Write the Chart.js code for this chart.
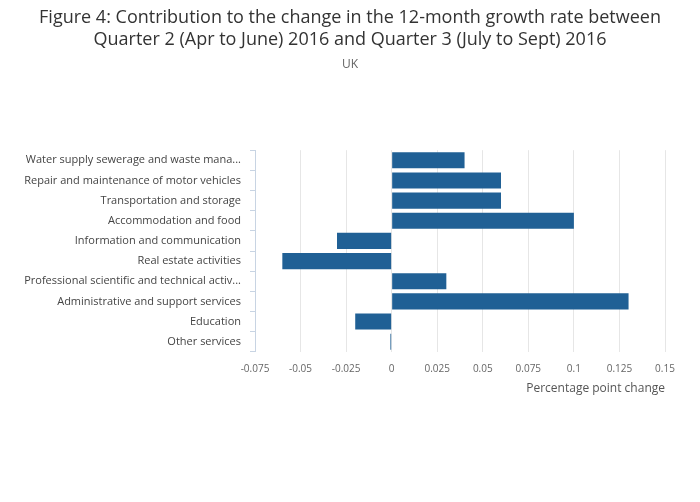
<!DOCTYPE html>
<html>
<head>
<meta charset="utf-8">
<script src="https://cdn.jsdelivr.net/npm/chart.js@4"></script>
<style>
  html, body { margin: 0; padding: 0; background: #fff; }
  #wrap { width: 700px; height: 502px; position: relative; }
</style>
</head>
<body>
<div id="wrap"><canvas id="c" width="700" height="502"></canvas></div>
<script>
const categories = [
  "Water supply sewerage and waste mana...",
  "Repair and maintenance of motor vehicles",
  "Transportation and storage",
  "Accommodation and food",
  "Information and communication",
  "Real estate activities",
  "Professional scientific and technical activ...",
  "Administrative and support services",
  "Education",
  "Other services"
];
const values = [0.04, 0.06, 0.06, 0.1, -0.03, -0.06, 0.03, 0.13, -0.02, -0.0007];
const titleLines = [
  "Figure 4: Contribution to the change in the 12-month growth rate between",
  "Quarter 2 (Apr to June) 2016 and Quarter 3 (July to Sept) 2016"
];
const subtitleText = "UK";
const xAxisTitle = "Percentage point change";
const xMin = -0.075, xMax = 0.15, xStep = 0.025;

const FONT = "'Open Sans', sans-serif";

new Chart(document.getElementById('c'), {
  type: 'bar',
  data: {
    labels: categories,
    datasets: [{
      data: values,
      backgroundColor: '#206095',
      borderWidth: 0,
      categoryPercentage: 0.8,
      barPercentage: 1.0
    }]
  },
  options: {
    indexAxis: 'y',
    responsive: false,
    animation: false,
    devicePixelRatio: 1,
    layout: { padding: { left: 0, right: 0, top: 0, bottom: 106 } },
    plugins: {
      legend: { display: false },
      tooltip: { enabled: false },
      title: {
        display: true,
        text: titleLines,
        color: '#333333',
        font: { family: FONT, size: 18, weight: 'normal', lineHeight: 1.2 },
        padding: { top: 7, bottom: 4 }
      },
      subtitle: {
        display: true,
        text: subtitleText,
        color: '#666666',
        font: { family: FONT, size: 12, weight: 'normal', lineHeight: 1.2 },
        padding: { top: 3, bottom: 78.6 }
      }
    },
    scales: {
      x: {
        type: 'linear',
        min: xMin,
        max: xMax,
        afterBuildTicks: (scale) => {
          const t = [];
          for (let i = 0; i <= Math.round((xMax - xMin) / xStep); i++) {
            t.push({ value: +(xMin + i * xStep).toFixed(4) });
          }
          scale.ticks = t;
        },
        grid: { color: '#e6e6e6', lineWidth: 1, drawTicks: false },
        border: { display: false },
        ticks: {
          padding: 11,
          color: '#666666',
          font: { family: FONT, size: 10 },
          maxRotation: 0,
          autoSkip: false,
          callback: (v) => String(parseFloat(Number(v).toFixed(4)))
        },
        title: {
          display: true,
          text: xAxisTitle,
          align: 'end',
          color: '#555555',
          font: { family: FONT, size: 12 },
          padding: { top: 0, bottom: 0 }
        },
        afterFit: (scale) => { scale.height = 44.2; }
      },
      y: {
        grid: { drawOnChartArea: false, drawTicks: true, tickLength: 5, color: '#c8d4e3', offset: true },
        border: { display: true, color: '#c8d4e3', width: 1 },
        ticks: {
          padding: 9,
          color: '#444444',
          font: { family: FONT, size: 11 },
          autoSkip: false
        },
        afterFit: (scale) => { scale.width = 255; }
      },
      ySpacer: {
        type: 'linear',
        position: 'right',
        display: true,
        grid: { display: false, drawTicks: false },
        border: { display: false },
        ticks: { display: false },
        afterFit: (scale) => { scale.width = 35; }
      }
    }
  }
});
</script>
</body>
</html>
